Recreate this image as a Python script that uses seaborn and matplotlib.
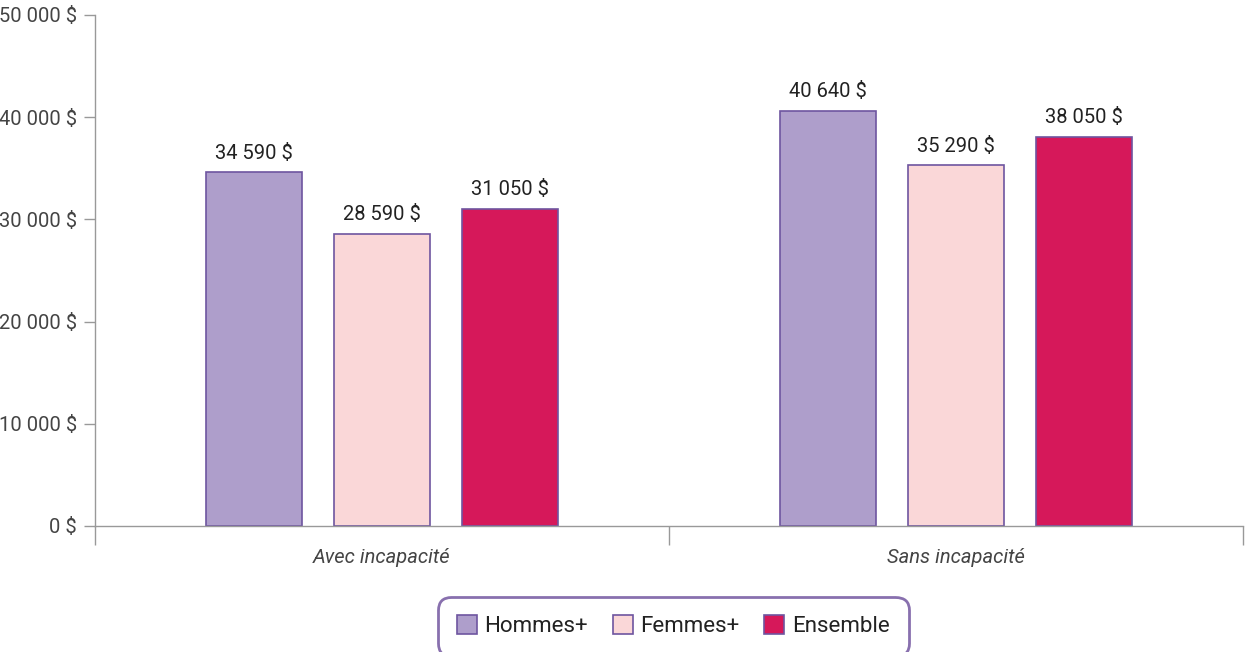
import numpy as np
import pandas as pd
import seaborn as sns
import matplotlib.pyplot as plt
from matplotlib.patches import Patch

sns.set_style('white')
plt.rcParams['font.family'] = ['Roboto', 'DejaVu Sans']

# Data
categories = ['Avec incapacité', 'Sans incapacité']
groups = ['Hommes+', 'Femmes+', 'Ensemble']
hommes = [34590, 40640]
femmes = [28590, 35290]
ensemble = [31050, 38050]
colors = ['#AE9ECB', '#FAD7D8', '#D6185A']
edge = '#6E55A0'

df = pd.DataFrame({
    'categorie': categories * 3,
    'groupe': [g for g in groups for _ in categories],
    'revenu': hommes + femmes + ensemble,
})

fig = plt.figure(figsize=(12.49, 6.52), dpi=100)
ax = fig.add_axes([0.0761, 0.1933, 0.9189, 0.7837])

sns.barplot(data=df, x='categorie', y='revenu', hue='groupe', hue_order=groups,
            palette=colors, width=0.67, gap=0.25, edgecolor=edge, linewidth=1.2,
            saturation=1, ax=ax, legend=False)

def fmt(v):
    return f'{int(v):,}'.replace(',', ' ') + ' $'

for cont in ax.containers:
    ax.bar_label(cont, labels=[fmt(b.get_height()) for b in cont], padding=7,
                 fontsize=14.5, color='#222222')

ax.set_ylim(0, 50000)
ax.set_xlim(-0.5, 1.5)
ax.set_yticks(np.arange(0, 50001, 10000))
ax.set_yticklabels([fmt(v) for v in np.arange(0, 50001, 10000)], fontsize=14.5,
                   color='#444444')
ax.set_xticks([0, 1])
ax.set_xticklabels(categories, fontsize=14.5, fontstyle='italic', color='#444444')
ax.set_xticks([-0.5, 0.5, 1.5], minor=True)
ax.tick_params(axis='x', which='major', bottom=True, length=0, pad=16)
ax.tick_params(axis='x', which='minor', bottom=True, length=14, width=1, color='#999999', direction='out')
ax.tick_params(axis='y', left=True, length=8, width=1, color='#999999', direction='out', pad=5)
ax.set_xlabel('')
ax.set_ylabel('')

for s in ['top', 'right']:
    ax.spines[s].set_visible(False)
for s in ['left', 'bottom']:
    ax.spines[s].set_color('#999999')
    ax.spines[s].set_linewidth(1)

handles = [Patch(facecolor=c, edgecolor=edge, linewidth=1.2, label=g) for c, g in zip(colors, groups)]
leg = fig.legend(handles=handles, loc='upper center', bbox_to_anchor=(0.539, 0.085), ncol=3,
                 fontsize=16, frameon=True, handlelength=0.9, handleheight=0.9,
                 handletextpad=0.35, columnspacing=1.1, borderpad=0.85, borderaxespad=0)
frame = leg.get_frame()
frame.set_edgecolor('#6B4C9A')
frame.set_linewidth(2)
frame.set_boxstyle('round', pad=0, rounding_size=0.6)
for t in leg.get_texts():
    t.set_color('#222222')

fig.savefig('out.png', dpi=100)
